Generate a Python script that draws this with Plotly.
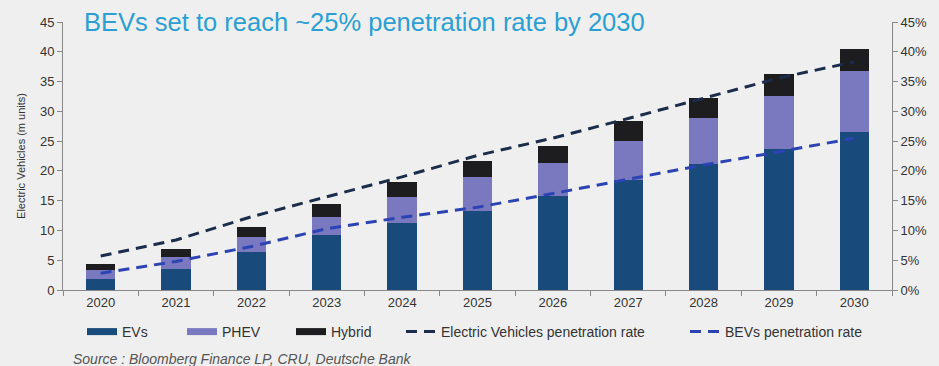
import plotly.graph_objects as go

years = ["2020", "2021", "2022", "2023", "2024", "2025", "2026", "2027", "2028", "2029", "2030"]
evs = [1.8, 3.6, 6.4, 9.2, 11.3, 13.3, 15.8, 18.5, 21.1, 23.7, 26.5]
phev = [1.6, 2.0, 2.5, 3.1, 4.4, 5.7, 5.5, 6.5, 7.7, 8.8, 10.2]
hybrid = [0.9, 1.3, 1.6, 2.2, 2.5, 2.7, 2.9, 3.3, 3.4, 3.7, 3.8]
totals = [4.3, 6.9, 10.5, 14.5, 18.2, 21.7, 24.2, 28.3, 32.2, 36.2, 40.5]
ev_pen = [5.7, 8.4, 12.3, 15.6, 19.0, 22.6, 25.5, 28.8, 32.2, 35.6, 38.3]
bev_pen = [2.8, 4.8, 7.3, 10.3, 12.2, 13.9, 16.2, 18.6, 21.0, 23.2, 25.5]
left_ticks = [0, 5, 10, 15, 20, 25, 30, 35, 40, 45]
right_ticks = [0, 5, 10, 15, 20, 25, 30, 35, 40, 45]

C_EV = "#184a7c"
C_PHEV = "#7a79c0"
C_HYB = "#1d1d1f"
C_LINE_EV = "#1b2d4a"
C_LINE_BEV = "#2c43b4"
BG = "#efefef"
FONT = "Liberation Sans, Arial, sans-serif"

# legend entry start positions (px from left of page)
legend_px = [82, 182, 291, 401, 685]
legend_ids = ["legend", "legend2", "legend3", "legend4", "legend5"]

fig = go.Figure()
for name, vals, col in [("EVs", evs, C_EV), ("PHEV", phev, C_PHEV), ("Hybrid", hybrid, C_HYB)]:
    fig.add_trace(go.Bar(x=years, y=vals, name=name, marker=dict(color=col, line=dict(width=0)),
                         showlegend=False, yaxis="y"))
for i, (name, col) in enumerate([("EVs", C_EV), ("PHEV", C_PHEV), ("Hybrid", C_HYB)]):
    fig.add_trace(go.Scatter(x=[None], y=[None], mode="lines", name=name, legend=legend_ids[i],
                             line=dict(color=col, width=7), yaxis="y"))

fig.add_trace(go.Scatter(x=years, y=ev_pen, mode="lines", name="Electric Vehicles penetration rate",
                         legend=legend_ids[3],
                         line=dict(color=C_LINE_EV, width=3, dash="11px,7px"), yaxis="y2"))
fig.add_trace(go.Scatter(x=years, y=bev_pen, mode="lines", name="BEVs penetration rate",
                         legend=legend_ids[4],
                         line=dict(color=C_LINE_BEV, width=3, dash="11px,7px"), yaxis="y2"))

for yr, t in zip(years, totals):
    fig.add_annotation(x=yr, y=t, text=f"{t}", showarrow=False, yshift=19, xref="x", yref="y",
                       font=dict(size=13, color="#333333", family=FONT))

fig.add_annotation(x=19 / 829, y=1.0, xref="paper", yref="paper", xanchor="left", yanchor="middle",
                   text="BEVs set to reach ~25% penetration rate by 2030", showarrow=False,
                   font=dict(size=25.5, color="#2b9fd4", family=FONT))
fig.add_annotation(x=(71 - 63) / 829, y=-69 / 268, xref="paper", yref="paper", xanchor="left",
                   yanchor="middle", text="<i>Source : Bloomberg Finance LP, CRU, Deutsche Bank</i>",
                   showarrow=False, font=dict(size=14, color="#555555", family=FONT))

legend_common = dict(orientation="h", xanchor="left", y=-42 / 268, yanchor="middle",
                     font=dict(size=14, color="#333333"), bgcolor="rgba(0,0,0,0)")
legends = {lid: dict(legend_common, x=(px - 63) / 829) for lid, px in zip(legend_ids, legend_px)}

fig.update_layout(
    width=939, height=366,
    margin=dict(l=63, r=47, t=22, b=76),
    paper_bgcolor=BG, plot_bgcolor=BG,
    barmode="stack", bargap=0.61,
    font=dict(family=FONT, size=13, color="#333333"),
    showlegend=True,
    xaxis=dict(type="category", range=[-0.5, 10.5], showline=True, linecolor="#888888", linewidth=1,
               ticks="outside", tickson="boundaries", ticklen=5, tickcolor="#888888",
               tickfont=dict(size=13, color="#333333"), showgrid=False),
    yaxis=dict(range=[0, 45], tickvals=left_ticks, showline=True, linecolor="#888888", linewidth=1,
               ticks="outside", ticklen=5, tickcolor="#888888", showgrid=False, zeroline=False,
               title=dict(text="Electric Vehicles (m units)", font=dict(size=11, color="#333333"), standoff=12),
               tickfont=dict(size=13, color="#333333")),
    yaxis2=dict(range=[0, 45], tickvals=right_ticks, ticktext=[f"{v}%" for v in right_ticks],
                overlaying="y", side="right", showline=True, linecolor="#888888", linewidth=1,
                ticks="outside", ticklen=5, tickcolor="#888888", showgrid=False, zeroline=False,
                tickfont=dict(size=13, color="#333333")),
    **legends,
)

fig.write_html("out.html")
